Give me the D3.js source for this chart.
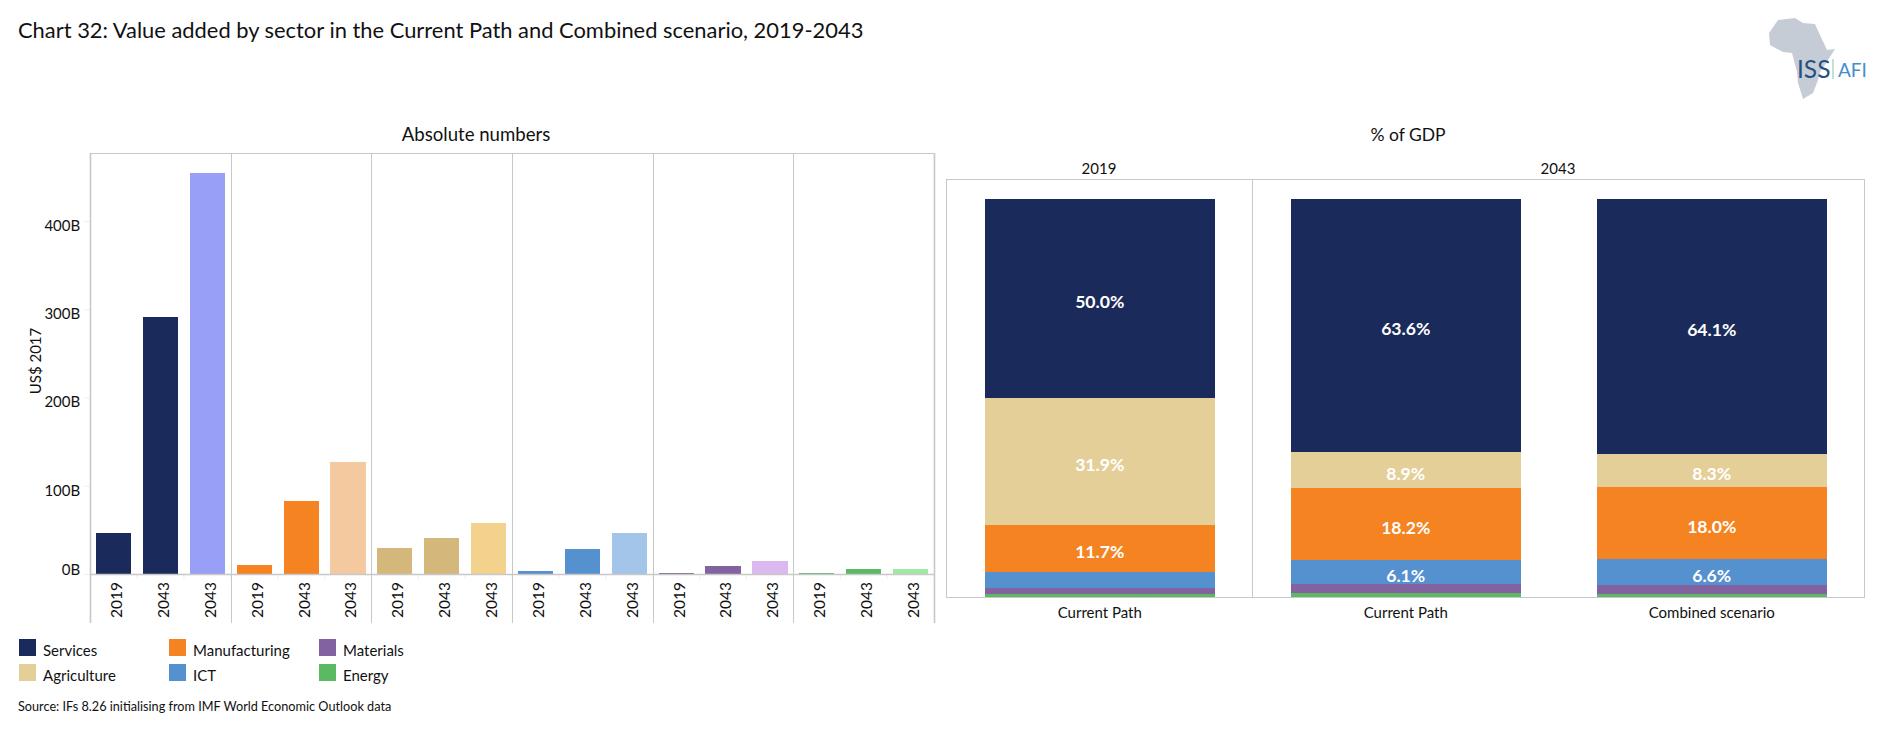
<!DOCTYPE html>
<html><head><meta charset="utf-8">
<script src="https://cdn.jsdelivr.net/npm/d3@7"></script>
<style>
html,body{margin:0;padding:0;background:#fff;overflow:hidden}
text{font-family:Lato,"Open Sans",sans-serif;fill:#111}
</style></head><body><svg id="c" width="1880" height="739"></svg>
<script>
const sectors = ["Services","Agriculture","Manufacturing","ICT","Materials","Energy"];
const legendOrder = ["Services","Agriculture","Manufacturing","ICT","Materials","Energy"];
const baseColors = ["#1a2a5a","#e5cf99","#f58322","#5590cf","#8262a0","#5cb963"];

// Left panel: Services, Manufacturing, Agriculture, ICT, Materials, Energy
const absSectors = ["Services","Manufacturing","Agriculture","ICT","Materials","Energy"];
const absBars = ["a","b","c"];
const absBarLabels = ["2019","2043","2043"];
const absServices = [46.5,291,454];
const absManufacturing = [10.5,82.7,127];
const absAgriculture = [29.5,41,58];
const absICT = [3.4,28.5,46.5];
const absMaterials = [1.5,9,14.5];
const absEnergy = [1.5,5.5,5.5];
const absValues = [absServices,absManufacturing,absAgriculture,absICT,absMaterials,absEnergy];
const absColors = [
  ["#1a2a5a","#1a2a5a","#979ff7"],
  ["#f58322","#f58322","#f5c9a0"],
  ["#d4b87b","#d4b87b","#f3d28d"],
  ["#5590cf","#5590cf","#a3c5e9"],
  ["#8262a0","#8262a0","#dbb8ee"],
  ["#5cb963","#5cb963","#a1e8a3"]];
const yTicks = [0,100,200,300,400];

// Right panel: share of GDP, bottom-up order is reversed from `sectors`
const pctColumns = ["c1","c2","c3"];
const pctColumnLabels = ["Current Path","Current Path","Combined scenario"];
const pct2019 = [50.0,31.9,11.7,4.1,1.5,0.8];
const pct2043Current = [63.6,8.9,18.2,6.1,2.3,0.9];
const pct2043Combined = [64.1,8.3,18.0,6.6,2.2,0.8];
const pctValues = [pct2019,pct2043Current,pct2043Combined];

const svg = d3.select("#c");
const GRID = "#c8c8c8";
const txt = (x,y,s,size,anchor="start",extra={}) => {
  const t = svg.append("text").attr("x",x).attr("y",y).attr("font-size",size).attr("text-anchor",anchor).text(s);
  Object.entries(extra).forEach(([k,v])=>t.attr(k,v));
  return t;
};

txt(18,38,"Chart 32: Value added by sector in the Current Path and Combined scenario, 2019-2043",21.9);
txt(476,141,"Absolute numbers",18.6,"middle");
txt(1408,141,"% of GDP",17.5,"middle");

/* ---------- left panel ---------- */
const L = {x0:90.2,x1:934,top:153,base:574,bottom:623};
const outer = d3.scaleBand().domain(absSectors).range([L.x0,L.x1]);
const inner = d3.scaleBand().domain(absBars).range([0,outer.bandwidth()]).paddingInner(0.25).paddingOuter(0.125);
const y = d3.scaleLinear().domain([0,400]).range([L.base,221]);

const yAxis = svg.append("g").attr("transform",`translate(${L.x0},0)`)
  .call(d3.axisLeft(y).tickValues(yTicks).tickFormat(d=>d+"B").tickSize(6).tickPadding(4));
yAxis.select(".domain").remove();
yAxis.selectAll("line").attr("stroke","#eeeeee");
yAxis.selectAll("text").attr("font-size",15).attr("font-family","Lato").attr("fill","#111")
  .attr("dy","0.75em").attr("y",d=>d===0?-11:-2);
txt(0,0,"US$ 2017",15,"middle",{transform:"translate(41,361) rotate(-90)"});

svg.append("line").attr("x1",L.x0).attr("x2",L.x1).attr("y1",153.5).attr("y2",153.5).attr("stroke",GRID);
absSectors.forEach((s,i)=>{
  const g = svg.append("g").attr("transform",`translate(${outer(s)},0)`);
  g.selectAll("rect").data(absValues[i]).join("rect")
    .attr("x",(d,j)=>inner(absBars[j]))
    .attr("width",inner.bandwidth())
    .attr("y",d=>y(d))
    .attr("height",d=>y(0)-y(d)-0.5)
    .attr("fill",(d,j)=>absColors[i][j])
    .attr("shape-rendering","crispEdges");
  const ax = d3.axisBottom(inner).tickSize(5).tickPadding(6).tickFormat(d=>absBarLabels[absBars.indexOf(d)]);
  const a = g.append("g").attr("transform",`translate(0,${L.base})`).call(ax);
  a.select(".domain").remove();
  a.selectAll("line").attr("stroke","#eeeeee").attr("x1",d=>inner.step()/2).attr("x2",d=>inner.step()/2);
  a.selectAll("text").attr("font-size",15.5).attr("font-family","Lato").attr("fill","#111")
    .attr("text-anchor","end").attr("transform","rotate(-90)").attr("x",-8).attr("y",3).attr("dy","0.35em");
});
svg.append("line").attr("x1",L.x0).attr("x2",L.x1).attr("y1",L.base+0.5).attr("y2",L.base+0.5).attr("stroke",GRID).attr("stroke-width",1.5);
d3.range(absSectors.length+1).forEach(i=>{
  const x = Math.round(L.x0+i*outer.step())+0.5;
  const edge = i===0||i===absSectors.length;
  svg.append("line").attr("x1",x).attr("x2",x).attr("y1",L.top).attr("y2",L.bottom)
    .attr("stroke",GRID).attr("stroke-width",edge?1.6:1);
});

/* ---------- right panel ---------- */
const R = {x0:946,x1:1864,top:179,base:597,barTop:199};
const xp = d3.scaleBand().domain(pctColumns).range([R.x0+0.75,R.x1+0.75]).paddingInner(0.25).paddingOuter(0.125);
const yp = d3.scaleLinear().domain([0,100]).range([R.base,R.barTop]);
const stack = d3.stack().keys(d3.range(sectors.length)).order(d3.stackOrderReverse)(pctValues);
stack.forEach((layer,k)=>{
  const si = layer.key;
  svg.append("g").selectAll("rect").data(layer).join("rect")
    .attr("x",(d,j)=>xp(pctColumns[j])).attr("width",xp.bandwidth())
    .attr("y",d=>yp(d[1])).attr("height",d=>yp(d[0])-yp(d[1]))
    .attr("fill",baseColors[si]).attr("shape-rendering","crispEdges");
  svg.append("g").selectAll("text").data(layer).join("text")
    .filter(d=>d[1]-d[0]>=6)
    .attr("x",(d,j)=>xp(pctColumns[layer.indexOf(d)])+xp.bandwidth()/2)
    .attr("y",d=>yp((d[0]+d[1])/2)+3.5).attr("dy","0.36em")
    .attr("text-anchor","middle").attr("font-size",17.6).attr("font-weight",700)
    .style("fill","#fff").text(d=>d3.format(".1f")(d[1]-d[0])+"%");
});
svg.append("rect").attr("x",R.x0+.5).attr("y",R.top+.5).attr("width",R.x1-R.x0).attr("height",R.base-R.top)
  .attr("fill","none").attr("stroke",GRID);
const divX = R.x0+xp.step()+.5;
svg.append("line").attr("x1",divX).attr("x2",divX).attr("y1",R.top).attr("y2",R.base).attr("stroke",GRID);
const xpAxis = svg.append("g").attr("transform",`translate(0,${R.base})`)
  .call(d3.axisBottom(xp).tickSize(0).tickPadding(10).tickFormat(d=>pctColumnLabels[pctColumns.indexOf(d)]));
xpAxis.select(".domain").remove();
xpAxis.selectAll("text").attr("font-size",15).attr("font-family","Lato").attr("fill","#111");
txt(R.x0+xp.step()/2,174,"2019",15,"middle");
txt(R.x0+xp.step()*2,174,"2043",15,"middle");

/* ---------- legend ---------- */
const legX = d3.scaleOrdinal().domain([0,1,2]).range([19,169,319]);
const legY = d3.scaleOrdinal().domain([0,1]).range([639,664]);
legendOrder.forEach((s,i)=>{
  const col = Math.floor(i/2), row = i%2;
  svg.append("rect").attr("x",legX(col)).attr("y",legY(row)).attr("width",17).attr("height",17)
    .attr("fill",baseColors[sectors.indexOf(s)]);
  txt(legX(col)+24,legY(row)+17,s,15);
});
txt(18,711,"Source: IFs 8.26 initialising from IMF World Economic Outlook data",12.7);

/* ---------- logo ---------- */
svg.append("path").attr("fill","#c6ccd5")
  .attr("d","M1778,20 L1795,18 L1803,23 L1815,24 L1820,35 L1827,50 L1835,49 L1828,60 L1820,72 L1818,80 L1813,93 L1803,99 L1798,83 L1797,72 L1792,53 L1783,52 L1770,45 L1769,33 Z");
svg.append("text").attr("x",1797).attr("y",78).attr("font-size",24.5).attr("font-family","Lato").style("fill","#25507f").text("ISS");
svg.append("rect").attr("x",1832).attr("y",59).attr("width",2).attr("height",20).attr("fill","#c5dfd6");
svg.append("text").attr("x",1838).attr("y",77).attr("font-size",19).attr("font-family","Lato").style("fill","#3f8fcb").text("AFI");
</script></body></html>
